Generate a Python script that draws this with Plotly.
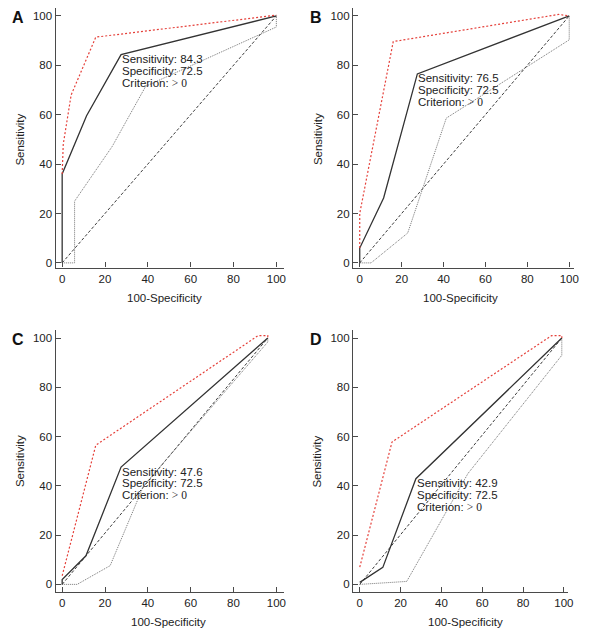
import plotly.graph_objects as go

# ---------------- data ----------------
panel_labels = ["A", "B", "C", "D"]
sensitivity = [84.3, 76.5, 47.6, 42.9]
specificity = [72.5, 72.5, 72.5, 72.5]
tick_values = [0, 20, 40, 60, 80, 100]

# Panel A
a_red_x = [0, 0.5, 4.2, 15.7, 100]
a_red_y = [36, 48, 68, 91.4, 100.3]
a_solid_x = [0, 0, 11.4, 27.5, 100]
a_solid_y = [0, 36, 59.6, 84.3, 100]
a_gray_x = [0, 5.8, 5.8, 23.4, 39, 100, 100]
a_gray_y = [0, 0, 25, 47.2, 71.5, 95.5, 100]
a_diag_x = [0, 100]
a_diag_y = [0, 100]

# Panel B
b_red_x = [0, 0, 16, 95, 100]
b_red_y = [6, 20, 89.6, 100.6, 100]
b_solid_x = [0, 0, 11.4, 27.5, 100]
b_solid_y = [0, 6, 26.3, 76.5, 100]
b_gray_x = [0, 5.4, 22.9, 41.3, 100, 100]
b_gray_y = [0, 0, 12.1, 58.6, 90.3, 100]
b_diag_x = [0, 100]
b_diag_y = [0, 100]

# Panel C
c_red_x = [0, 15.7, 91.5, 96, 96]
c_red_y = [3.5, 56.5, 101, 101, 100]
c_solid_x = [0, 0, 11.1, 27.5, 96]
c_solid_y = [0, 2, 11.6, 47.6, 100]
c_gray_x = [0, 7, 22.4, 38, 96, 96]
c_gray_y = [0, 0, 7.6, 40, 98.4, 100]
c_diag_x = [0, 96]
c_diag_y = [0, 100]

# Panel D
d_red_x = [0, 4.6, 15.8, 94, 99, 99]
d_red_y = [7, 21.6, 57.8, 101, 101, 100]
d_solid_x = [0, 11.3, 27.5, 99]
d_solid_y = [0.8, 6.9, 42.9, 100]
d_gray_x = [0, 23, 53, 99, 99]
d_gray_y = [0, 1.2, 45, 93, 100]
d_diag_x = [0, 99]
d_diag_y = [0, 100]

panels = [
    (a_red_x, a_red_y, a_solid_x, a_solid_y, a_gray_x, a_gray_y, a_diag_x, a_diag_y),
    (b_red_x, b_red_y, b_solid_x, b_solid_y, b_gray_x, b_gray_y, b_diag_x, b_diag_y),
    (c_red_x, c_red_y, c_solid_x, c_solid_y, c_gray_x, c_gray_y, c_diag_x, c_diag_y),
    (d_red_x, d_red_y, d_solid_x, d_solid_y, d_gray_x, d_gray_y, d_diag_x, d_diag_y),
]

# ---------------- layout geometry (pixels in a 600x640 canvas) ----------------
W, H = 600, 640
# plot-area boxes: (left, right, top, bottom) in px
boxes = [(56, 286, 8, 268), (356, 579.3, 8, 268),
         (56, 286, 330.7, 592.7), (356, 572.7, 330.7, 592.7)]
x_ranges = [[-3.1, 103.4], [-3.2, 102.5], [-3.1, 103.4], [-3.3, 102.0]]
y_ranges = [[-1.9, 103.2], [-1.9, 103.2], [-3.0, 103.2], [-3.0, 103.2]]
xtitle_pos = [(166, 298), (464, 298), (170, 623), (469, 623)]
ytitle_pos = [(20, 140), (320, 139), (20, 462), (320, 462)]
letter_pos = [(18.5, 17.5), (318.5, 17.5), (18.5, 340), (318.5, 340)]

FONT = "Liberation Sans, Arial, sans-serif"
AX = "#4a4a4a"
TXT = "#222222"

fig = go.Figure()
layout = dict(width=W, height=H, margin=dict(l=0, r=0, t=0, b=0),
              paper_bgcolor="white", plot_bgcolor="white", showlegend=False,
              font=dict(family=FONT, color=TXT))
annotations = []

for i, (rx, ry, sx, sy, gx, gy, dx, dy) in enumerate(panels):
    n = "" if i == 0 else str(i + 1)
    xa, ya = "x" + n, "y" + n
    fig.add_trace(go.Scatter(x=dx, y=dy, mode="lines", xaxis=xa, yaxis=ya,
                             line=dict(color="#3c3c3c", width=1, dash="3px,2px")))
    fig.add_trace(go.Scatter(x=gx, y=gy, mode="lines", xaxis=xa, yaxis=ya,
                             line=dict(color="#747474", width=1, dash="1px,1px")))
    fig.add_trace(go.Scatter(x=sx, y=sy, mode="lines", xaxis=xa, yaxis=ya,
                             line=dict(color="#333333", width=1.3)))
    fig.add_trace(go.Scatter(x=rx, y=ry, mode="lines", xaxis=xa, yaxis=ya,
                             line=dict(color="#e5403a", width=1.2, dash="2px,2px")))

    l, r, t, b = boxes[i]
    axcommon = dict(showline=True, linecolor=AX, linewidth=1.3, showgrid=False,
                    zeroline=False, ticks="inside", ticklen=5, tickwidth=1,
                    tickcolor=AX, tickvals=tick_values,
                    tickfont=dict(family=FONT, size=11.5, color=TXT), fixedrange=True)
    layout["xaxis" + n] = dict(axcommon, domain=[l / W, r / W], range=x_ranges[i],
                               anchor=ya)
    layout["yaxis" + n] = dict(axcommon, domain=[1 - b / H, 1 - t / H], range=y_ranges[i],
                               anchor=xa)

    # stats text at the operating point
    px = 100 - specificity[i]
    py = sensitivity[i]
    lines = [f"Sensitivity: {sensitivity[i]}",
             f"Specificity: {specificity[i]}",
             "Criterion: <span style='font-family:Liberation Serif, Times New Roman, serif'>&gt; 0</span>"]
    for k, txt in enumerate(lines):
        annotations.append(dict(x=px, y=py, xref=xa, yref=ya, text=txt, showarrow=False,
                                xanchor="left", yanchor="middle", xshift=-1,
                                yshift=-4.5 - 11.7 * k,
                                font=dict(family=FONT, size=11.5, color=TXT)))

    # axis titles
    tx, ty = xtitle_pos[i]
    annotations.append(dict(x=tx / W, y=1 - ty / H, xref="paper", yref="paper",
                            text="100-Specificity", showarrow=False,
                            xanchor="center", yanchor="middle",
                            font=dict(family=FONT, size=11.5, color=TXT)))
    vx, vy = ytitle_pos[i]
    annotations.append(dict(x=vx / W, y=1 - vy / H, xref="paper", yref="paper",
                            text="Sensitivity", showarrow=False, textangle=-90,
                            xanchor="center", yanchor="middle",
                            font=dict(family=FONT, size=11.5, color=TXT)))
    lx, ly = letter_pos[i]
    annotations.append(dict(x=lx / W, y=1 - ly / H, xref="paper", yref="paper",
                            text="<b>" + panel_labels[i] + "</b>", showarrow=False,
                            xanchor="center", yanchor="middle",
                            font=dict(family=FONT, size=16, color="#111111")))

layout["annotations"] = annotations
fig.update_layout(**layout)
fig.write_html("out.html", config={"displayModeBar": False},
               post_script="document.body.style.margin='0';document.body.style.overflow='hidden';")
